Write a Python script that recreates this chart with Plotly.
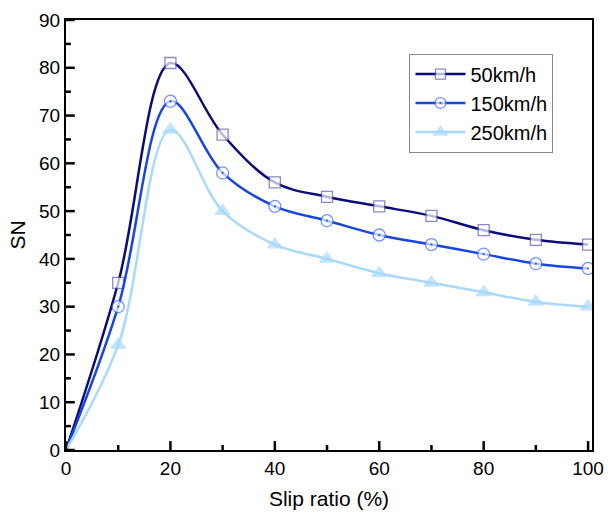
import plotly.graph_objects as go

slip = [0, 10, 20, 30, 40, 50, 60, 70, 80, 90, 100]
sn_50 = [0, 35, 81, 66, 56, 53, 51, 49, 46, 44, 43]
sn_150 = [0, 30, 73, 58, 51, 48, 45, 43, 41, 39, 38]
sn_250 = [0, 22, 67, 50, 43, 40, 37, 35, 33, 31, 30]
names = ["50km/h", "150km/h", "250km/h"]
x_major = [0, 20, 40, 60, 80, 100]
x_minor = [10, 30, 50, 70, 90]
y_major = [0, 10, 20, 30, 40, 50, 60, 70, 80, 90]
y_minor = [5, 15, 25, 35, 45, 55, 65, 75, 85]

FONT = "Liberation Sans, Arial, sans-serif"
W, H = 614, 517
M = dict(l=66, r=10, t=17, b=66)
PW = W - M["l"] - M["r"]
PH = H - M["t"] - M["b"]

fig = go.Figure()
styles = [
    dict(color="#0b0b7a", sym="square", fill="white", mcol="#5a5aa8", size=11),
    dict(color="#1747e0", sym="circle-dot", fill="white", mcol="#3a66ff", size=12),
    dict(color="#a9d9fb", sym="triangle-up", fill="#a9d9fb", mcol="#a9d9fb", size=13),
]
for ys, nm, st in zip([sn_50, sn_150, sn_250], names, styles):
    sizes = [0] + [st["size"]] * (len(slip) - 1)
    fig.add_trace(go.Scatter(
        x=slip, y=ys, name=nm, mode="lines+markers",
        line=dict(color=st["color"], width=2.5, shape="spline", smoothing=1.0),
        marker=dict(symbol=st["sym"], size=sizes, color=st["fill"],
                    line=dict(color=st["mcol"], width=1.3)),
    ))

XR = [0, 100.75]
YR = [0, 90]

# inward tick marks drawn as axis decorations at the tick values
shapes = []
for vals, ln in ((x_major, 9), (x_minor, 5)):
    for v in vals:
        shapes.append(dict(type="line", xref="x", yref="paper", x0=v, x1=v, y0=0, y1=ln / PH,
                           line=dict(color="black", width=2.5), layer="above"))
for vals, ln in ((y_major, 9), (y_minor, 5)):
    for v in vals:
        shapes.append(dict(type="line", xref="paper", yref="y", x0=0, x1=ln / PW, y0=v, y1=v,
                           line=dict(color="black", width=2.5), layer="above"))

fig.update_layout(
    width=W, height=H, margin=M,
    plot_bgcolor="white", paper_bgcolor="white",
    xaxis=dict(range=XR, tickvals=x_major, showline=True, linecolor="black", linewidth=2, mirror=True,
               ticks="", showgrid=False, zeroline=False,
               tickfont=dict(family=FONT, size=19, color="black"),
               title=dict(text="Slip ratio (%)", font=dict(family=FONT, size=21, color="black"), standoff=14)),
    yaxis=dict(range=YR, tickvals=y_major, showline=True, linecolor="black", linewidth=2, mirror=True,
               ticks="", showgrid=False, zeroline=False,
               tickfont=dict(family=FONT, size=19, color="black"),
               title=dict(text="SN", font=dict(family=FONT, size=21, color="black"), standoff=8)),
    shapes=shapes,
    legend=dict(x=0.653, y=0.922, xanchor="left", yanchor="top",
                bordercolor="#888888", borderwidth=1, bgcolor="white",
                font=dict(family=FONT, size=20, color="black"),
                itemwidth=50, tracegroupgap=0),
)
fig.write_html("out.html")
